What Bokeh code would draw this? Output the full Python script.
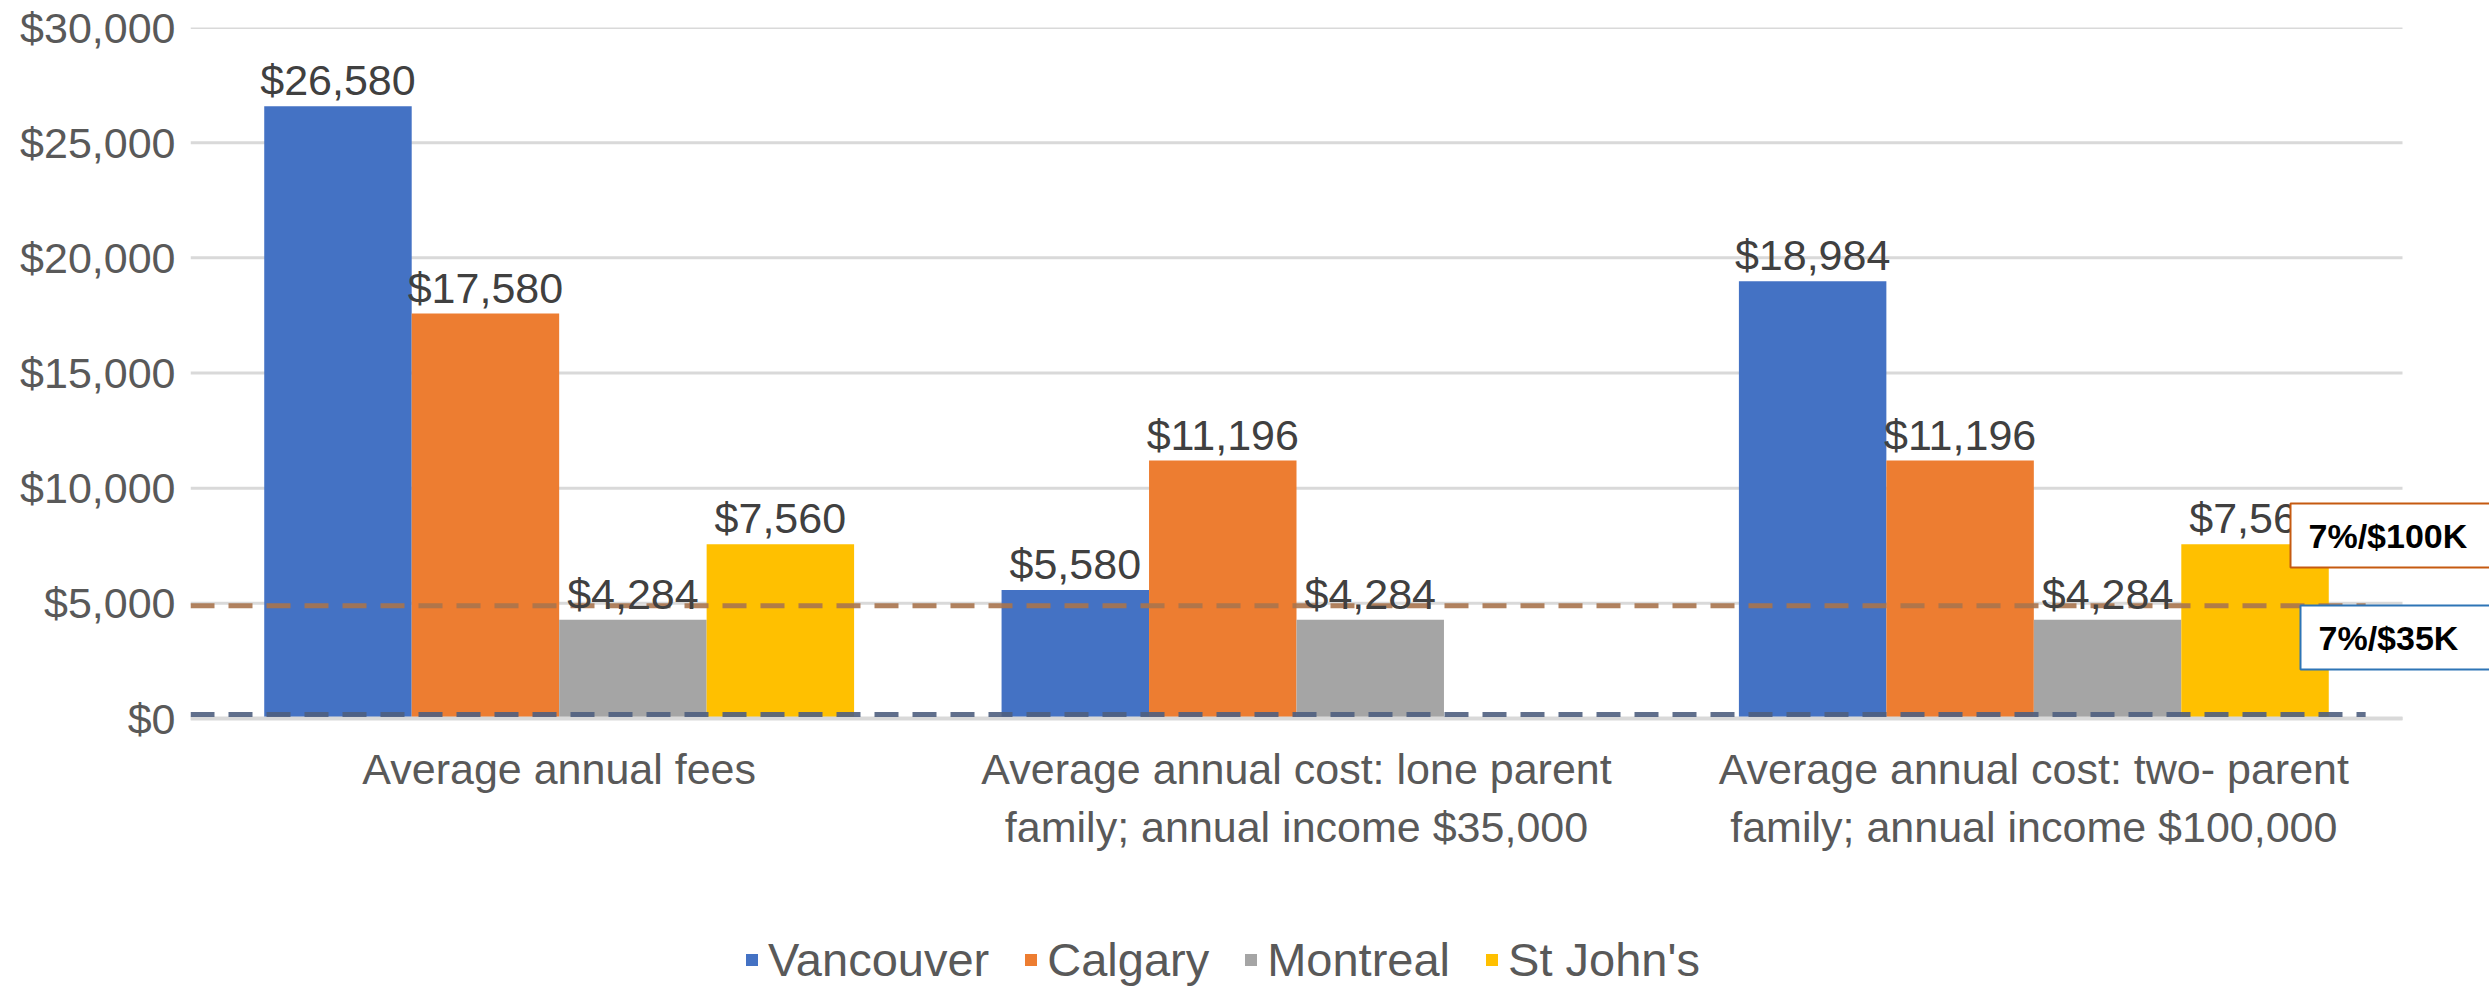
from bokeh.plotting import figure
from bokeh.models import (Range1d, ColumnDataSource, LabelSet, Label,
                          Legend, LegendItem, NumeralTickFormatter, FixedTicker)
from bokeh.transform import dodge
from bokeh.core.properties import value
from bokeh.embed import file_html
from bokeh.resources import INLINE

# ---- data ----
categories = [
    "Average annual fees",
    "Average annual cost: lone parent\nfamily; annual income $35,000",
    "Average annual cost: two- parent\nfamily; annual income $100,000",
]
cities = ["Vancouver", "Calgary", "Montreal", "St John's"]
vancouver = [26580, 5580, 18984]
calgary = [17580, 11196, 11196]
montreal = [4284, 4284, 4284]
st_johns = [7560, 0, 7560]
series = [vancouver, calgary, montreal, st_johns]
colors = ["#4472C4", "#ED7D31", "#A5A5A5", "#FFC000"]
threshold_values = [4900, 170]
threshold_labels = ["7%/$100K", "7%/$35K"]
y_ticks = [0, 5000, 10000, 15000, 20000, 25000, 30000]

FONT = "Liberation Sans"
GREY_TXT = "#595959"

# ---- layout (pixels) ----
W, H = 2489, 989
LEFT, TOP = 190, 27          # frame left / top
ZERO_PX = 718                # pixel row of $0
DATA_RIGHT = 2402            # right end of the category area
Y_MAX = y_ticks[-1]
val_per_px = Y_MAX / (ZERO_PX - TOP)
y_start = -(H - ZERO_PX) * val_per_px
ncat = len(categories)
x_end = ncat * (W - LEFT) / (DATA_RIGHT - LEFT)
centers = [i + 0.5 for i in range(ncat)]

p = figure(x_range=Range1d(0, x_end), y_range=Range1d(y_start, Y_MAX),
           width=W, height=H, output_backend="svg", toolbar_location=None,
           min_border_left=LEFT, min_border_right=0, min_border_top=TOP,
           min_border_bottom=0)
p.outline_line_color = None
p.background_fill_color = "white"
p.border_fill_color = "white"
p.xgrid.grid_line_color = None
p.ygrid.grid_line_color = None
p.xaxis.visible = False

# gridlines limited to the category area
p.segment(x0=0, x1=ncat, y0=y_ticks, y1=y_ticks, line_color="#D9D9D9", line_width=3)

offsets = [-0.3, -0.1, 0.1, 0.3]
items = []
label_sets = []
for name, vals, col, off in zip(cities, series, colors, offsets):
    src = ColumnDataSource(dict(xc=centers, val=vals,
                                lab=[f"${v:,}" if v else "" for v in vals]))
    r = p.vbar(x=dodge("xc", off), top="val", width=0.2,
               source=src, fill_color=col, line_color=None)
    items.append(LegendItem(label=name, renderers=[r]))
    label_sets.append(LabelSet(x=dodge("xc", off), y="val", text="lab",
                               source=src, text_align="center", text_baseline="alphabetic",
                               y_offset=11, text_font_size="43px", text_color="#404040",
                               text_font=value(FONT)))

# x axis line along $0
p.segment(x0=0, x1=ncat, y0=0, y1=0, line_color="#D9D9D9", line_width=4)

# threshold lines (drawn over the bars)
line_cols = ["#A8744E", "#4F5F80"]
for v, c in zip(threshold_values, line_cols):
    p.segment(x0=0, x1=ncat - 0.05, y0=v, y1=v, line_color=c, line_width=5,
              line_dash="24 14", line_alpha=0.9)

# category labels under the bars
cat_src = ColumnDataSource(dict(xc=centers, txt=categories,
                                y=[-26 * val_per_px] * ncat))
p.text(x="xc", y="y", text="txt", source=cat_src, text_align="center",
       text_baseline="top", text_font_size="43px", text_color=GREY_TXT,
       text_font=value(FONT), text_line_height=1.22)

for ls in label_sets:
    p.add_layout(ls)

# y axis
p.yaxis.axis_line_color = None
p.yaxis.major_tick_line_color = None
p.yaxis.minor_tick_line_color = None
p.yaxis.major_tick_out = 0
p.yaxis.major_tick_in = 0
p.yaxis.ticker = FixedTicker(ticks=y_ticks, minor_ticks=[])
p.yaxis.formatter = NumeralTickFormatter(format="$0,0")
p.yaxis.major_label_text_font_size = "43px"
p.yaxis.major_label_text_color = GREY_TXT
p.yaxis.major_label_text_font = FONT
p.yaxis.major_label_standoff = 15

# legend near the bottom of the frame
legend = Legend(items=items, orientation="horizontal", location=(554, 2),
                glyph_width=15, glyph_height=15, label_standoff=9, spacing=34,
                padding=0, margin=0, border_line_color=None, background_fill_alpha=0,
                label_text_font_size="47px", label_text_color=GREY_TXT,
                label_text_font=FONT)
p.add_layout(legend, "center")

# annotation boxes
box_specs = [(2290 - LEFT, H - 503, "#C55A11"), (2300 - LEFT, H - 605, "#2E75B6")]
for (bx, by, bc), txt in zip(box_specs, threshold_labels):
    p.add_layout(Label(x=bx, y=by, x_units="screen", y_units="screen", text=txt,
                       anchor="top_left", text_align="left", text_baseline="top",
                       padding=dict(left=18, right=40, top=13, bottom=13),
                       text_font_style="bold", text_font_size="34px", text_font=FONT,
                       text_color="black", background_fill_color="white",
                       border_line_color=bc, border_line_width=2))

open("out.html", "w").write(file_html(p, INLINE))
